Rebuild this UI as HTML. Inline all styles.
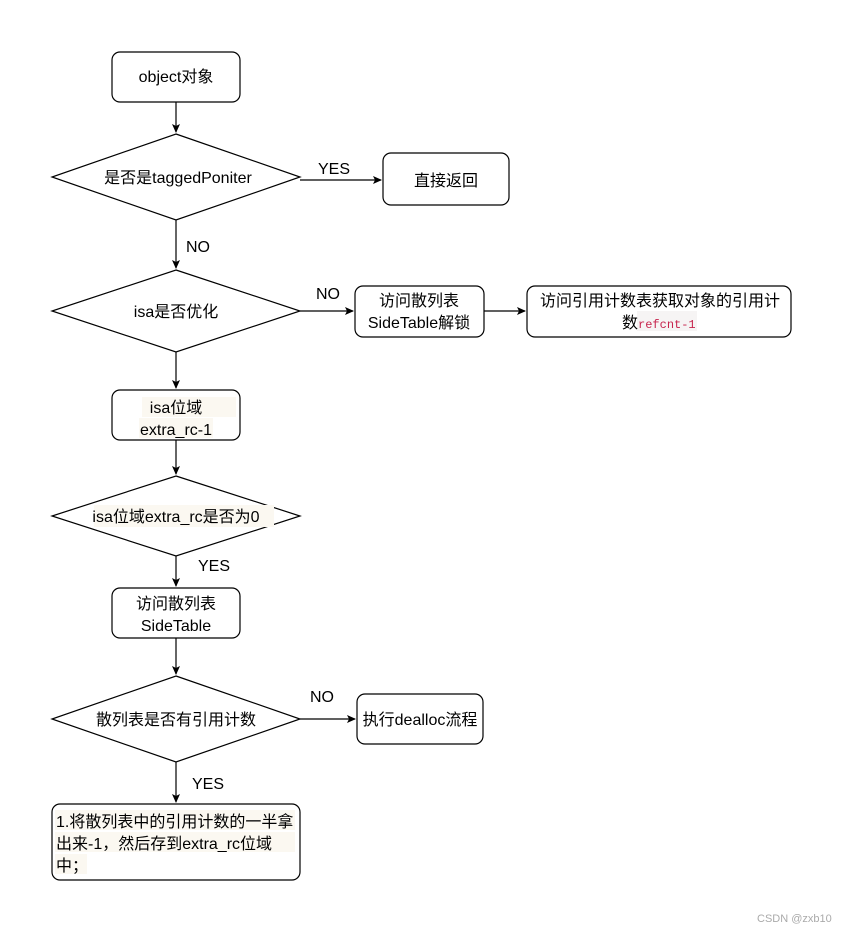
<!DOCTYPE html>
<html><head><meta charset="utf-8"><style>
body{margin:0;background:#fff;}
svg text{font-family:"Liberation Sans","Noto Sans CJK SC",sans-serif;font-size:16px;fill:#000;}
</style></head><body>
<svg width="842" height="932" xmlns="http://www.w3.org/2000/svg">
<defs><marker id="a" markerWidth="10" markerHeight="10" refX="8" refY="5" orient="auto" markerUnits="userSpaceOnUse"><path d="M0,1 L9,5 L0,9 L2,5 z" fill="#000"/></marker></defs>
<g fill="none" stroke="#000" stroke-width="1.2">
<rect x="112" y="52" width="128" height="50" rx="8"/>
<path d="M176,102 V132" marker-end="url(#a)"/>
<polygon points="176,134 300,177 176,220 52,177"/>
<path d="M300,180 H381" marker-end="url(#a)"/>
<rect x="383" y="153" width="126" height="52" rx="8"/>
<path d="M176,220 V268" marker-end="url(#a)"/>
<polygon points="176,270 300,311 176,352 52,311"/>
<path d="M300,311 H353" marker-end="url(#a)"/>
<rect x="355" y="286" width="129" height="51" rx="8"/>
<path d="M484,311 H525" marker-end="url(#a)"/>
<rect x="527" y="286" width="264" height="51" rx="8"/>
<path d="M176,352 V388" marker-end="url(#a)"/>
<rect x="112" y="390" width="128" height="50" rx="8"/>
<path d="M176,440 V474" marker-end="url(#a)"/>
<polygon points="176,476 300,516 176,556 52,516"/>
<path d="M176,556 V586" marker-end="url(#a)"/>
<rect x="112" y="588" width="128" height="50" rx="8"/>
<path d="M176,638 V674" marker-end="url(#a)"/>
<polygon points="176,676 300,719 176,762 52,719"/>
<path d="M300,719 H355" marker-end="url(#a)"/>
<rect x="357" y="694" width="126" height="50" rx="8"/>
<path d="M176,762 V802" marker-end="url(#a)"/>
<rect x="52" y="804" width="248" height="76" rx="8"/>
</g>
<rect x="142" y="397" width="94" height="20" fill="#fbf8f1"/>
<rect x="139" y="418" width="74" height="20" fill="#fbf8f1"/>
<rect x="94" y="505" width="180" height="22" fill="#fbf8f1"/>
<rect x="55" y="810" width="240" height="20" fill="#fbf8f1"/>
<rect x="55" y="832" width="240" height="20" fill="#fbf8f1"/>
<rect x="55" y="854" width="32" height="20" fill="#fbf8f1"/>
<rect x="637" y="311" width="60" height="20" fill="#f6f4f4"/>
<g text-anchor="middle">
<text x="176" y="82">object对象</text>
<text x="178" y="183">是否是taggedPoniter</text>
<text x="446" y="186">直接返回</text>
<text x="176" y="317">isa是否优化</text>
<text x="419" y="306">访问散列表</text>
<text x="419" y="328">SideTable解锁</text>
<text x="660" y="306">访问引用计数表获取对象的引用计</text>
<text x="176" y="413">isa位域</text>
<text x="176" y="435">extra_rc-1</text>
<text x="176" y="522">isa位域extra_rc是否为0</text>
<text x="176" y="609">访问散列表</text>
<text x="176" y="631">SideTable</text>
<text x="176" y="725">散列表是否有引用计数</text>
<text x="420" y="725">执行dealloc流程</text>
</g>
<text x="622" y="328">数<tspan font-family="Liberation Mono,monospace" font-size="12" fill="#c7254e">refcnt-1</tspan></text>
<text x="56" y="827">1.将散列表中的引用计数的一半拿</text>
<text x="56" y="849">出来-1，然后存到extra_rc位域</text>
<text x="56" y="871">中；</text>
<text x="318" y="174">YES</text>
<text x="186" y="252">NO</text>
<text x="316" y="299">NO</text>
<text x="198" y="571">YES</text>
<text x="310" y="702">NO</text>
<text x="192" y="789">YES</text>
<text x="757" y="922" style="font-size:11px;fill:#aaa">CSDN @zxb10</text>
</svg>
</body></html>
